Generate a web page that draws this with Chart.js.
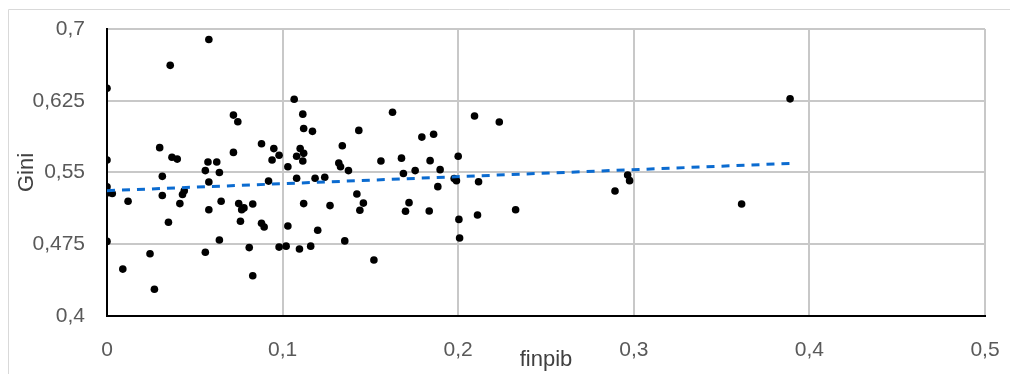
<!DOCTYPE html>
<html><head><meta charset="utf-8">
<script src="https://cdn.jsdelivr.net/npm/chart.js@4/dist/chart.umd.min.js"></script>
<style>html,body{margin:0;padding:0;background:#fff;overflow:hidden}#wrap{width:1010px;height:374px;position:relative}</style>
</head><body><div id="wrap"><canvas id="c" width="1010" height="374"></canvas></div>
<script>
const finpib = [0.058,0.036,0,0.072,0.0745,0.030,0.037,0.040,0,0.0575,0.0625,0.072,0.088,0.095,0.098,0.094,0.103,0.0315,0.056,0.064,
0.058,0.092,0,0.001,0.003,0.012,0.0315,0.044,0.043,0.0415,0.035,0.058,0.065,0.075,0.078,0.0767,0.083,0.076,0.088,0.0895,
0,0.064,0.0245,0.056,0.081,0.098,0.102,0.009,0.083,0.027,0.103,0.1066,0.1115,0.112,0.117,0.108,0.110,0.112,0.1115,0.108,
0.1185,0.124,0.132,0.133,0.134,0.1375,0.1434,0.156,0.1626,0.1677,0.1688,0.1755,0.1793,0.186,0.184,0.1897,0.1977,0.199,0.200,0.2093,
0.112,0.1096,0.116,0.120,0.127,0.1354,0.1423,0.146,0.144,0.152,0.172,0.170,0.1835,0.1884,0.2004,0.2008,0.2116,0.211,0.2234,0.2327,
0.2893,0.2965,0.2976,0.389,0.3614];
const gini = [0.689,0.662,0.638,0.610,0.603,0.576,0.566,0.564,0.563,0.561,0.561,0.571,0.580,0.575,0.568,0.563,0.556,0.546,0.552,0.550,
0.540,0.541,0.535,0.529,0.528,0.520,0.526,0.531,0.527,0.5175,0.498,0.511,0.520,0.5175,0.513,0.511,0.517,0.499,0.497,0.493,
0.478,0.4795,0.465,0.4666,0.4715,0.472,0.473,0.449,0.442,0.428,0.494,0.6265,0.611,0.596,0.593,0.567,0.575,0.570,0.562,0.544,
0.544,0.545,0.560,0.556,0.578,0.552,0.594,0.562,0.613,0.565,0.549,0.552,0.587,0.590,0.5624,0.553,0.5436,0.5415,0.567,0.609,
0.5175,0.470,0.473,0.4896,0.5154,0.4785,0.5276,0.518,0.5105,0.4586,0.5185,0.5095,0.5098,0.5352,0.501,0.4816,0.5404,0.5056,0.6028,0.511,
0.5307,0.5474,0.5415,0.627,0.517];
const trendX = [0, 0.389];
const trendY = [0.531, 0.5595];
const xTicks = [0, 0.1, 0.2, 0.3, 0.4, 0.5];
const yTicks = [0.4, 0.475, 0.55, 0.625, 0.7];
const xTitle = 'finpib';
const yTitle = 'Gini';

const fmt = v => String(Number(v.toFixed(3))).replace('.', ',');
const frame = {id:'frame', beforeDraw(chart){const c=chart.ctx;c.save();c.strokeStyle='#d9d9d9';c.lineWidth=1;c.beginPath();c.moveTo(8.5,374);c.lineTo(8.5,9.5);c.lineTo(1010,9.5);c.stroke();c.restore();}};
const tickFont = {family:'"Liberation Sans", Arial, sans-serif', size:21};
const titleFont = {family:'"Liberation Sans", Arial, sans-serif', size:22};

new Chart(document.getElementById('c'), {
  type: 'scatter',
  data: {
    datasets: [
      {data: trendX.map((x,i)=>({x, y:trendY[i]})), showLine:true, pointRadius:0, pointHoverRadius:0,
       borderColor:'#0b6bd0', borderWidth:3, borderDash:[8,7], fill:false, order:0},
      {data: finpib.map((x,i)=>({x, y:gini[i]})), backgroundColor:'#000', borderColor:'#000', borderWidth:0,
       pointRadius:3.8, pointHoverRadius:3.8, order:1}
    ]
  },
  options: {
    responsive:false, animation:false, devicePixelRatio:1,
    layout:{padding:{left:0, top:29, right:25, bottom:0}},
    plugins:{legend:{display:false}, tooltip:{enabled:false}},
    scales:{
      x:{type:'linear', min:0, max:0.5,
         afterBuildTicks(s){s.ticks = xTicks.map(v=>({value:v}));},
         afterFit(s){s.height = 58; s.paddingLeft = 0; s.paddingRight = 0;},
         ticks:{callback:v=>fmt(v), font:tickFont, color:'#595959', padding:22, maxRotation:0},
         grid:{color:'#c8c8c8', lineWidth:2, drawTicks:false},
         border:{color:'#000', width:2},
         title:{display:true, text:xTitle, font:titleFont, color:'#404040', padding:{top:0,bottom:1}}},
      y:{type:'linear', min:0.4, max:0.7,
         afterBuildTicks(s){s.ticks = yTicks.map(v=>({value:v}));},
         afterFit(s){s.width = 107; s.paddingTop = 0; s.paddingBottom = 0;},
         ticks:{callback:v=>fmt(v), font:tickFont, color:'#595959', padding:22},
         grid:{color:'#c8c8c8', lineWidth:2, drawTicks:false},
         border:{color:'#000', width:2},
         title:{display:true, text:yTitle, font:titleFont, color:'#404040', padding:{top:14,bottom:0}}}
    }
  },
  plugins:[frame]
});
</script></body></html>
